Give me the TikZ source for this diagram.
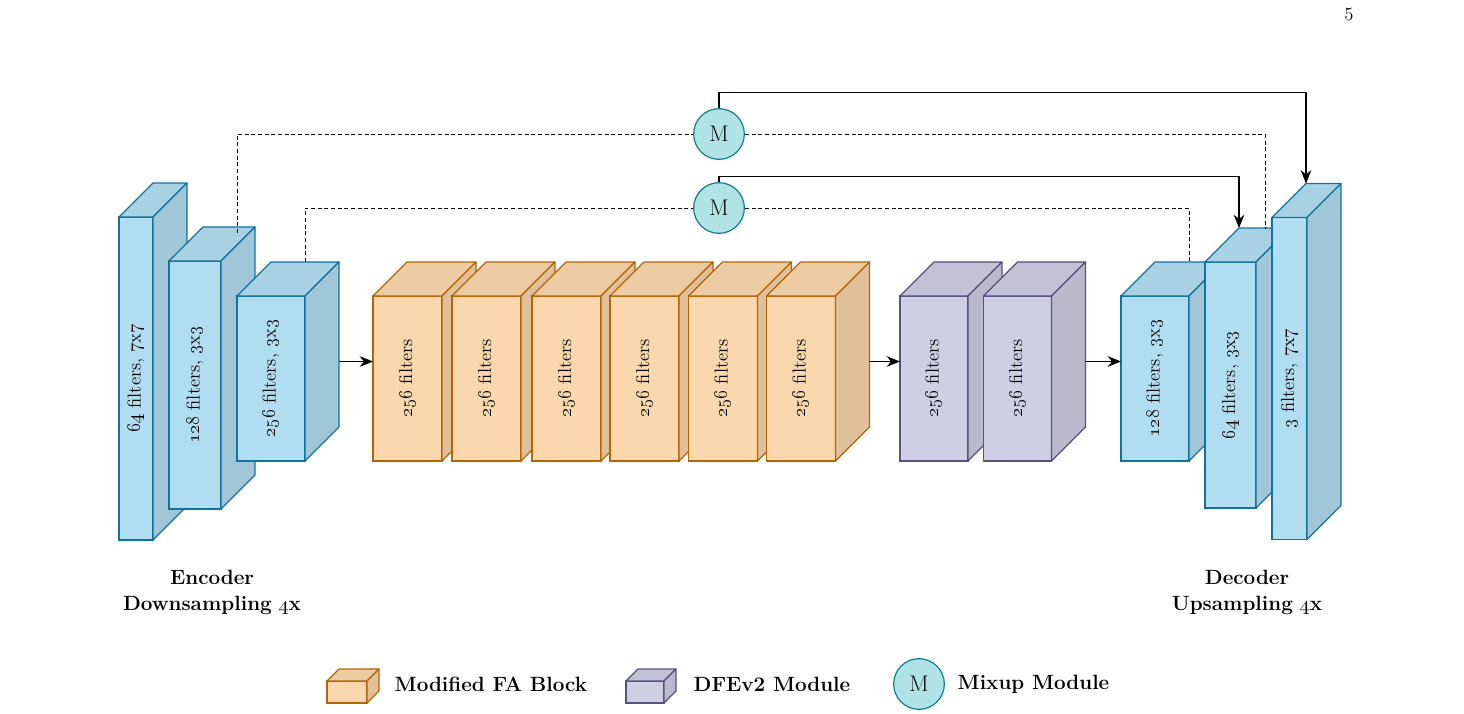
\documentclass[tikz,border=0pt]{standalone}
\usepackage{graphicx, xcolor, tikz}
\usetikzlibrary{shapes,arrows,arrows.meta,positioning}
\definecolor{encfront}{HTML}{B1DDF0}
\definecolor{encside}{HTML}{A0C6D8}
\definecolor{enctop}{HTML}{A8D1E4}
\definecolor{encline}{HTML}{10739E}
\definecolor{fafront}{HTML}{FAD7AC}
\definecolor{faside}{HTML}{E0C09B}
\definecolor{fatop}{HTML}{EDCBA3}
\definecolor{faline}{HTML}{B46504}
\definecolor{dfefront}{HTML}{D0CEE2}
\definecolor{dfeside}{HTML}{BBB8CB}
\definecolor{dfetop}{HTML}{C4C1D6}
\definecolor{dfeline}{HTML}{56517E}
\definecolor{mixfill}{HTML}{B0E3E6}
\definecolor{mixline}{HTML}{0E8088}
\newcommand{\osn}[1]{\oldstylenums{#1}}
% name, x, y, width, height, depth, colour set, label
\newcommand{\layerbox}[8]{%
  \node[front, fill=#7front, draw=#7line, minimum width=#4*0.75pt, minimum height=#5*0.75pt] (#1) at (#2,#3) {\rotatebox{90}{#8}};
  \draw[face, fill=#7top, draw=#7line] (#1.north west) -- ++(#6,-#6) -- ++(#4,0) -- (#1.north east) -- cycle;
  \draw[face, fill=#7side, draw=#7line] (#1.north east) -- ++(#6,-#6) -- ++(0,#5) -- (#1.south east) -- cycle;
}

\begin{document}
\begin{tikzpicture}[x=0.75pt, y=-0.75pt,
  front/.style={rectangle, line width=0.9pt, inner sep=0pt, outer sep=0pt, font=\fontsize{14}{16}\selectfont},
  face/.style={line width=0.9pt, line join=round},
  mixup/.style={circle, draw=mixline, fill=mixfill, line width=0.9pt, minimum size=38pt, inner sep=0pt, font=\fontsize{17}{19}\selectfont},
  skip/.style={dash pattern=on 3pt off 2pt, line width=0.65pt},
  link/.style={line width=0.8pt, -{Stealth[length=10pt,width=8pt]}},
  caption/.style={font=\fontsize{15.5}{19.5}\selectfont\bfseries, align=center}]
\useasboundingbox (0,0) rectangle (1464,714);
% Encoder
\layerbox{enc1}{136}{378.5}{34}{323}{34}{enc}{\osn{64} filters, \osn{7}x\osn{7}}
\layerbox{enc2}{195}{385}{52}{248}{34}{enc}{\osn{128} filters, \osn{3}x\osn{3}}
\layerbox{enc3}{271}{378.5}{68}{165}{34}{enc}{\osn{256} filters, \osn{3}x\osn{3}}
% Modified FA blocks
\layerbox{fa1}{407.5}{378.5}{69}{165}{34}{fa}{\osn{256} filters}
\layerbox{fa2}{486.5}{378.5}{69}{165}{34}{fa}{\osn{256} filters}
\layerbox{fa3}{566.5}{378.5}{69}{165}{34}{fa}{\osn{256} filters}
\layerbox{fa4}{644.5}{378.5}{69}{165}{34}{fa}{\osn{256} filters}
\layerbox{fa5}{723}{378.5}{69}{165}{34}{fa}{\osn{256} filters}
\layerbox{fa6}{801}{378.5}{69}{165}{34}{fa}{\osn{256} filters}
% DFEv2 modules
\layerbox{dfe1}{934}{378.5}{68}{165}{34}{dfe}{\osn{256} filters}
\layerbox{dfe2}{1017.5}{378.5}{68}{165}{34}{dfe}{\osn{256} filters}
% Decoder
\layerbox{dec1}{1155}{378.5}{68}{165}{34}{enc}{\osn{128} filters, \osn{3}x\osn{3}}
\layerbox{dec2}{1230.5}{385}{51}{246}{34}{enc}{\osn{64} filters, \osn{3}x\osn{3}}
\layerbox{dec3}{1289.5}{378.5}{35}{322}{34}{enc}{\osn{3} filters, \osn{7}x\osn{7}}
% Main path
\draw[link] ([shift={(34,-17)}]enc3.east) -- ([shift={(0,-17)}]fa1.west);
\draw[link] ([shift={(34,-17)}]fa6.east) -- ([shift={(0,-17)}]dfe1.west);
\draw[link] ([shift={(34,-17)}]dfe2.east) -- ([shift={(0,-17)}]dec1.west);
% Mixup modules
\node[mixup] (m1) at (719,134) {M};
\node[mixup] (m2) at (719,208) {M};
\draw[skip] ([shift={(16,-28)}]enc2.north east) |- (m1.west);
\draw[skip] (m1.east) -| ([shift={(9,-33)}]dec2.north east);
\draw[skip] ([shift={(0,-34)}]enc3.north east) |- (m2.west);
\draw[skip] (m2.east) -| ([shift={(0,-34)}]dec1.north east);
\draw[link] (m1.north) -- ++(0,-16) -| ([shift={(34,-34)}]dec3.north west);
\draw[link] (m2.north) -- ++(0,-6) -| ([shift={(34,-34)}]dec2.north west);
% Captions
\node[caption] (enccap) at (212,592) {Encoder\\Downsampling \osn{4}x};
\node[caption] (deccap) at (1247,592) {Decoder\\Upsampling \osn{4}x};
\node[font=\fontsize{14}{16}\selectfont] (page) at (1349,14) {5};
% Legend
\layerbox{legfa}{347}{692}{40}{22}{12}{fa}{}
\node[caption, anchor=west] (legfatext) at (390,684) {Modified FA Block};
\layerbox{legdfe}{645}{692}{38}{22}{12}{dfe}{}
\node[caption, anchor=west] (legdfetext) at (689,684) {DFEv2 Module};
\node[mixup] (legmix) at (919,684) {M};
\node[caption, anchor=west] (legmixtext) at (953,684) {Mixup Module};
\end{tikzpicture}
\end{document}
